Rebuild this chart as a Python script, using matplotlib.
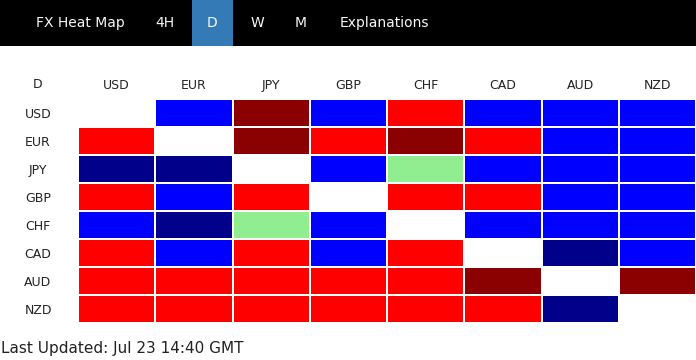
import matplotlib as mpl
mpl.use('Agg')
import matplotlib.pyplot as plt
from matplotlib.colors import ListedColormap
from matplotlib.patches import Rectangle
import numpy as np

# data ######################################

currencies = ['USD', 'EUR', 'JPY', 'GBP', 'CHF', 'CAD', 'AUD', 'NZD']
tabs = ['FX Heat Map', '4H', 'D', 'W', 'M', 'Explanations']
active_tab = 'D'
updated = 'Last Updated: Jul 23 14:40 GMT'

# 0 = none (diagonal), 1 = strong down, 2 = down, 3 = neutral-ish, 4 = up, 5 = strong up
# rows = base currency, columns = quote currency
heat = [
    [0, 2, 5, 2, 4, 2, 2, 2],  # USD
    [4, 0, 5, 4, 5, 4, 2, 2],  # EUR
    [1, 1, 0, 2, 3, 2, 2, 2],  # JPY
    [4, 2, 4, 0, 4, 4, 2, 2],  # GBP
    [2, 1, 3, 2, 0, 2, 2, 2],  # CHF
    [4, 2, 4, 2, 4, 0, 1, 2],  # CAD
    [4, 4, 4, 4, 4, 5, 0, 5],  # AUD
    [4, 4, 4, 4, 4, 4, 1, 0],  # NZD
]

level_colors = ['#ffffff', '#00008b', '#0000ff', '#90ee90', '#ff0000', '#8b0000']

# figure ####################################

W, H = 696, 360
fig = plt.figure(figsize=(W / 100, H / 100), dpi=100)
txt = '#222222'

# nav bar
fig.patches.append(Rectangle((0, 1 - 46 / H), 1, 46 / H, transform=fig.transFigure,
                             facecolor='black', edgecolor='none', zorder=0))
tab_x = [80, 165, 212, 257, 301, 384]
for name, x in zip(tabs, tab_x):
    if name == active_tab:
        fig.patches.append(Rectangle((192 / W, 1 - 46 / H), 41 / W, 46 / H,
                                     transform=fig.transFigure, facecolor='#337ab7',
                                     edgecolor='none', zorder=1))
    fig.text(x / W, 1 - 23 / H, name, color='#f8f8f8', fontsize=10,
             ha='center', va='center', zorder=2)

# heat grid
ax = fig.add_axes([78 / W, 1 - 323 / H, (W - 78) / W, 224 / H])
cmap = ListedColormap(level_colors)
ax.pcolormesh(np.array(heat), cmap=cmap, vmin=-0.5, vmax=5.5,
              edgecolors='white', linewidth=1.44)
ax.set_xlim(0, 8)
ax.set_ylim(8, 0)
for s in ax.spines.values():
    s.set_visible(False)

ax.xaxis.tick_top()
ax.set_xticks(np.arange(8) + 0.5, labels=currencies)
ax.set_yticks(np.arange(8) + 0.5, labels=currencies)
ax.tick_params(axis='x', length=0, pad=10, labelsize=9, labelcolor=txt)
ax.tick_params(axis='y', length=0, pad=28.8, labelsize=9, labelcolor=txt)
for lab in ax.get_xticklabels():
    lab.set_va('center')
for lab in ax.get_yticklabels():
    lab.set_ha('center')

fig.text(38 / W, 1 - 85 / H, active_tab, fontsize=9, color=txt, ha='center', va='center')
fig.text(1 / W, 1 - 349 / H, updated, fontsize=11, color=txt, ha='left', va='center')

plt.savefig('out.png', dpi=100)
